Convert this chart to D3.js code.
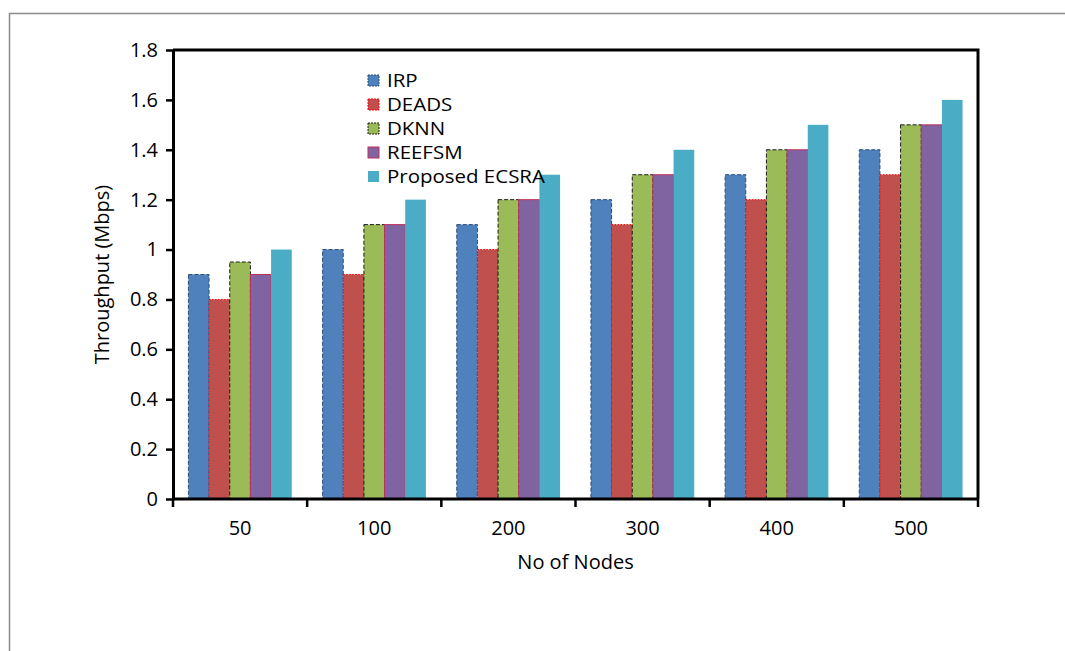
<!DOCTYPE html>
<html>
<head>
<meta charset="utf-8">
<script src="https://cdn.jsdelivr.net/npm/d3@7"></script>
<style>
  body { margin: 0; background: #fff; }
  text { font-family: "Open Sans", "Noto Sans", sans-serif; fill: #000; }
</style>
</head>
<body>
<div id="chart"></div>
<script>
// data
const categories = ["50", "100", "200", "300", "400", "500"];
const seriesNames = ["IRP", "DEADS", "DKNN", "REEFSM", "Proposed ECSRA"];
const irp = [0.9, 1.0, 1.1, 1.2, 1.3, 1.4];
const deads = [0.8, 0.9, 1.0, 1.1, 1.2, 1.3];
const dknn = [0.95, 1.1, 1.2, 1.3, 1.4, 1.5];
const reefsm = [0.9, 1.1, 1.2, 1.3, 1.4, 1.5];
const ecsra = [1.0, 1.2, 1.3, 1.4, 1.5, 1.6];
const yTicks = [0, 0.2, 0.4, 0.6, 0.8, 1, 1.2, 1.4, 1.6, 1.8];

const seriesValues = [irp, deads, dknn, reefsm, ecsra];
const styles = [
  { fill: "#4F81BD", stroke: "#2C4D75", dash: "4,2" },
  { fill: "#C0504D", stroke: "#FF0000", dash: "1.5,1.5" },
  { fill: "#9BBB59", stroke: "#1a1a1a", dash: "4,2" },
  { fill: "#8064A2", stroke: "#C0315A", dash: null },
  { fill: "#4BACC6", stroke: "none", dash: null }
];

const fontSize = "20px";
const W = 1065, H = 651;
const margin = { top: 50, right: 87, bottom: 152, left: 173 };
const width = W - margin.left - margin.right,
  height = H - margin.top - margin.bottom;

const root = d3.select("#chart").append("svg")
  .attr("width", W)
  .attr("height", H);

// outer chart frame
root.append("rect")
  .attr("x", 9.5).attr("y", 13.5)
  .attr("width", W).attr("height", H)
  .attr("fill", "none")
  .attr("stroke", "#8c8c8c")
  .attr("stroke-width", 1.5);

const svg = root.append("g")
  .attr("transform", `translate(${margin.left},${margin.top})`);

const x0 = d3.scaleBand()
  .domain(categories)
  .range([0, width])
  .paddingInner(0.23)
  .paddingOuter(0.115);

const x1 = d3.scaleBand()
  .domain(seriesNames)
  .range([0, x0.bandwidth()]);

const y = d3.scaleLinear()
  .domain([0, 1.8])
  .range([height, 0]);

// bars
seriesNames.forEach((name, si) => {
  const st = styles[si];
  svg.append("g")
    .selectAll("rect")
    .data(seriesValues[si])
    .join("rect")
    .attr("x", (d, i) => x0(categories[i]) + x1(name))
    .attr("y", d => y(d))
    .attr("width", x1.bandwidth())
    .attr("height", d => y(0) - y(d))
    .attr("fill", st.fill)
    .attr("stroke", st.stroke)
    .attr("stroke-width", 1)
    .attr("stroke-dasharray", st.dash);
});

// plot frame (top and right)
svg.append("path")
  .attr("d", `M0,0H${width}V${height}`)
  .attr("fill", "none")
  .attr("stroke", "#000")
  .attr("stroke-width", 3);

// y axis
const yAxis = svg.append("g")
  .call(d3.axisLeft(y).tickValues(yTicks).tickFormat(d => d).tickSizeInner(7).tickSizeOuter(0).tickPadding(8));
yAxis.select(".domain").attr("stroke-width", 3);
yAxis.selectAll(".tick line").attr("stroke-width", 2.5);
yAxis.selectAll("text").style("font-size", fontSize);

// x axis: ticks at category boundaries
const xAxis = svg.append("g")
  .attr("transform", `translate(0,${height})`);
xAxis.append("line")
  .attr("x1", 0).attr("x2", width)
  .attr("stroke", "#000").attr("stroke-width", 3);
const boundaries = d3.range(categories.length + 1).map(i => i * width / categories.length);
xAxis.selectAll(".bt")
  .data(boundaries)
  .join("line")
  .attr("x1", d => d).attr("x2", d => d)
  .attr("y1", 0).attr("y2", 8)
  .attr("stroke", "#000").attr("stroke-width", 2.5);
xAxis.selectAll(".lbl")
  .data(categories)
  .join("text")
  .attr("x", (d, i) => (i + 0.5) * width / categories.length)
  .attr("y", 36)
  .attr("text-anchor", "middle")
  .style("font-size", fontSize)
  .text(d => d);

// axis titles
svg.append("text")
  .attr("x", width / 2)
  .attr("y", height + 70)
  .attr("text-anchor", "middle")
  .style("font-size", fontSize)
  .text("No of Nodes");

svg.append("text")
  .attr("transform", `translate(${-64},${height / 2}) rotate(-90)`)
  .attr("text-anchor", "middle")
  .style("font-size", fontSize)
  .text("Throughput (Mbps)");

// legend
const legend = svg.append("g")
  .attr("transform", `translate(${368 - margin.left},${75 - margin.top})`);
seriesNames.forEach((name, i) => {
  const g = legend.append("g").attr("transform", `translate(0,${i * 24})`);
  const st = styles[i];
  g.append("rect")
    .attr("x", 0).attr("y", 0)
    .attr("width", 11).attr("height", 11)
    .attr("fill", st.fill)
    .attr("stroke", st.stroke)
    .attr("stroke-width", 1)
    .attr("stroke-dasharray", st.dash ? "2,1" : null);
  // slightly widened text to keep rows tight like the original
  g.append("text")
    .attr("transform", "translate(19,6) scale(1.17,1)")
    .attr("dy", "0.35em")
    .style("font-size", "17.5px")
    .text(name);
});
</script>
</body>
</html>
